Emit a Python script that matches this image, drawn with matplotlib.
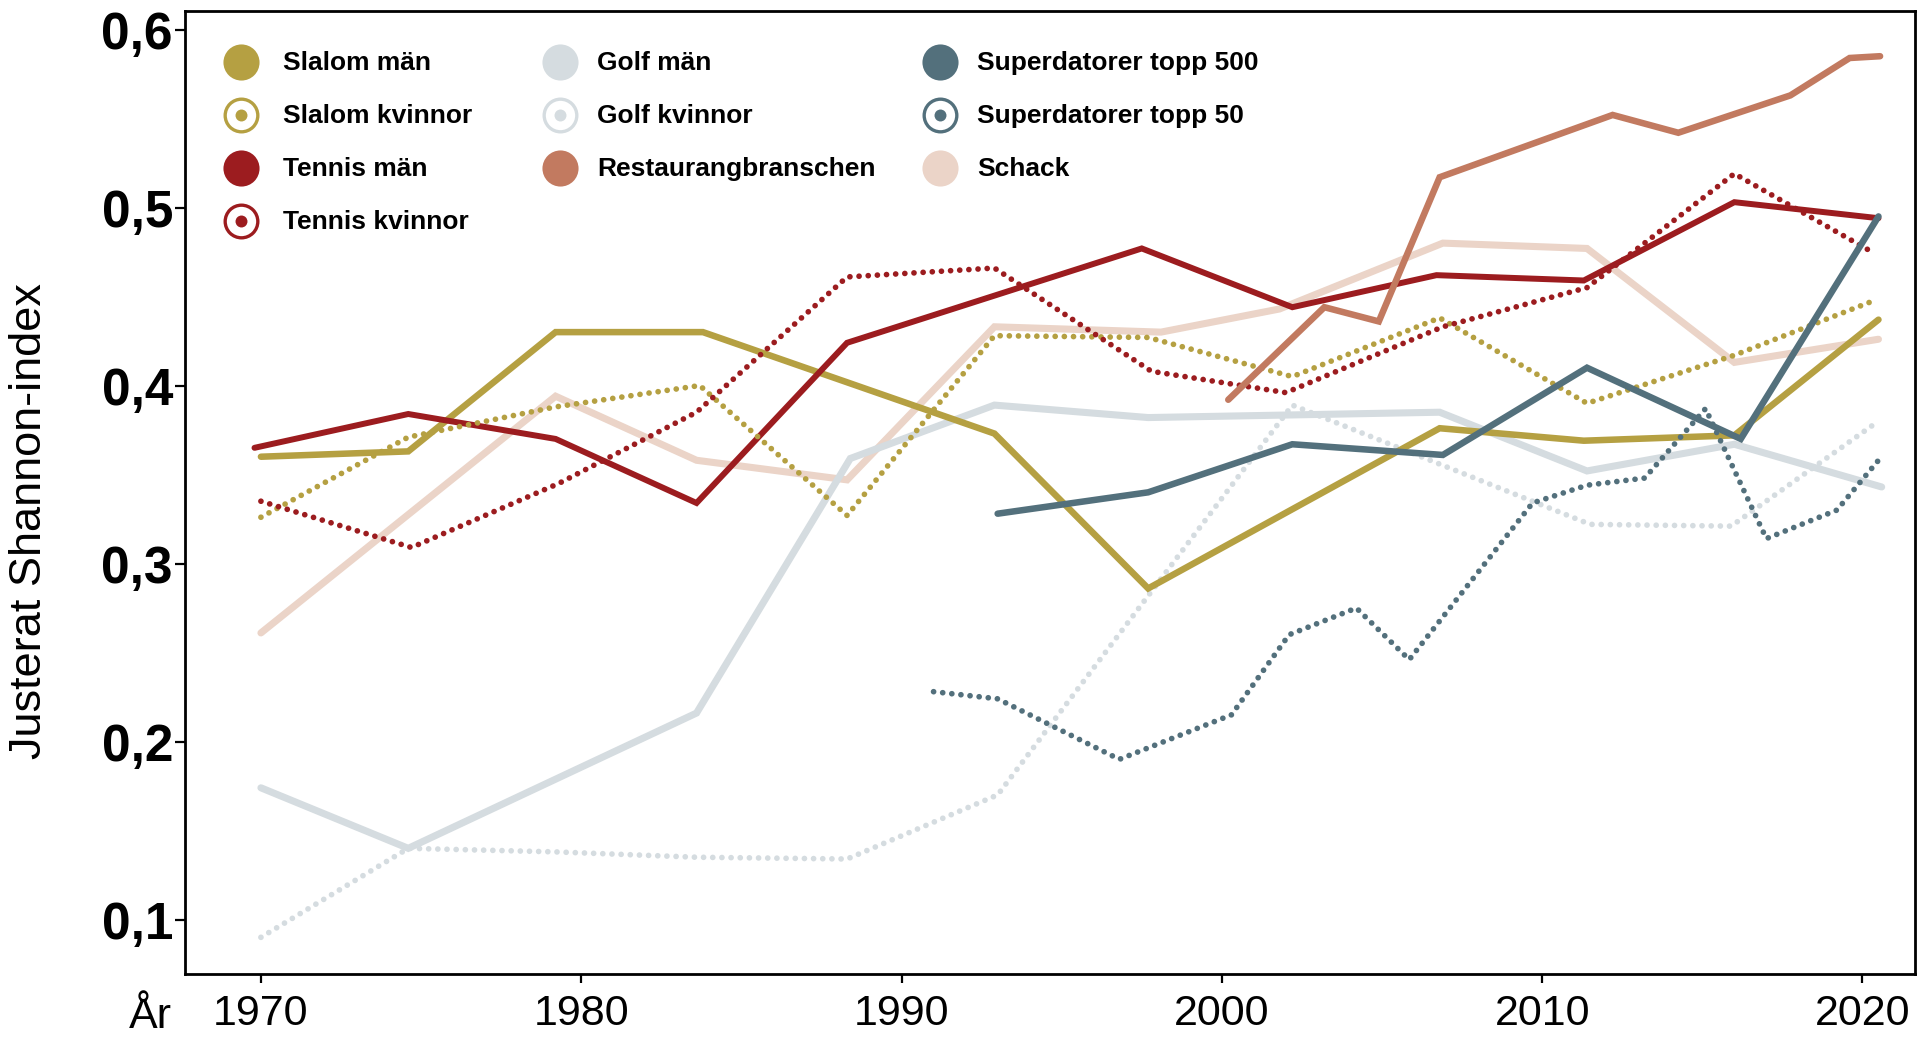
import matplotlib
matplotlib.use("Agg")
import matplotlib.pyplot as plt
from matplotlib.ticker import FuncFormatter

plt.rcParams['font.family'] = ['Liberation Sans', 'DejaVu Sans']

## Färger
GULD = '#B5A042'
ROD = '#9C1C1F'
GRA = '#D5DCE0'
TEGEL = '#C27A60'
SKIFFER = '#53707C'
ROSA = '#EBD4C8'

## Data (avläst ur originalet)
slalom_man_ar = [1970.0, 1974.6, 1979.2, 1983.8, 1992.9, 1997.7, 2006.8, 2011.3, 2016.0, 2020.5]
slalom_man = [0.360, 0.363, 0.430, 0.430, 0.373, 0.286, 0.376, 0.369, 0.372, 0.437]

slalom_kv_ar = [1970.0, 1974.6, 1979.2, 1983.7, 1988.3, 1992.9, 1997.7, 2002.2, 2006.8, 2011.4, 2016.0, 2020.4]
slalom_kv = [0.326, 0.371, 0.388, 0.400, 0.327, 0.428, 0.427, 0.405, 0.438, 0.390, 0.417, 0.448]

tennis_man_ar = [1969.8, 1974.6, 1979.2, 1983.6, 1988.3, 1997.5, 2002.2, 2006.7, 2011.3, 2016.0, 2020.5]
tennis_man = [0.365, 0.384, 0.370, 0.334, 0.424, 0.477, 0.444, 0.462, 0.459, 0.503, 0.494]

tennis_kv_ar = [1970.0, 1974.7, 1979.3, 1983.6, 1988.3, 1992.9, 1997.8, 2002.0, 2006.9, 2011.4, 2016.0, 2020.4]
tennis_kv = [0.335, 0.309, 0.345, 0.385, 0.461, 0.466, 0.408, 0.396, 0.433, 0.455, 0.519, 0.474]

golf_man_ar = [1970.0, 1974.6, 1983.6, 1988.4, 1992.9, 1997.7, 2006.8, 2011.4, 2016.0, 2020.6]
golf_man = [0.174, 0.140, 0.216, 0.359, 0.389, 0.382, 0.385, 0.352, 0.367, 0.343]

golf_kv_ar = [1970.0, 1974.6, 1979.2, 1983.6, 1988.3, 1993.0, 2002.2, 2011.5, 2015.9, 2020.5]
golf_kv = [0.090, 0.140, 0.138, 0.135, 0.134, 0.170, 0.389, 0.322, 0.321, 0.380]

restaurang_ar = [2000.2, 2003.2, 2004.9, 2006.8, 2012.2, 2014.25, 2017.75, 2019.6, 2020.55]
restaurang = [0.392, 0.444, 0.436, 0.517, 0.552, 0.542, 0.563, 0.584, 0.585]

topp500_ar = [1993.0, 1997.7, 2002.2, 2006.9, 2011.4, 2016.2, 2020.5]
topp500 = [0.328, 0.340, 0.367, 0.361, 0.410, 0.370, 0.495]

topp50_ar = [1991.0, 1993.0, 1996.8, 2000.3, 2002.1, 2004.2, 2005.85, 2009.7, 2011.4, 2013.2,
             2015.1, 2017.0, 2019.2, 2020.5]
topp50 = [0.228, 0.224, 0.190, 0.215, 0.260, 0.275, 0.246, 0.334, 0.344, 0.348,
          0.387, 0.314, 0.330, 0.358]

schack_ar = [1970.0, 1979.2, 1983.6, 1988.3, 1992.9, 1998.1, 2001.8, 2006.9, 2011.4, 2016.0, 2020.5]
schack = [0.261, 0.394, 0.358, 0.347, 0.433, 0.430, 0.443, 0.480, 0.477, 0.413, 0.426]

y_ticks = [0.1, 0.2, 0.3, 0.4, 0.5, 0.6]
x_ticks = [1970, 1980, 1990, 2000, 2010, 2020]

## Teckenförklaring: (kolumn, rad, text, färg, prickad)
forklaring = [
    (0, 0, 'Slalom män', GULD, False),
    (0, 1, 'Slalom kvinnor', GULD, True),
    (0, 2, 'Tennis män', ROD, False),
    (0, 3, 'Tennis kvinnor', ROD, True),
    (1, 0, 'Golf män', GRA, False),
    (1, 1, 'Golf kvinnor', GRA, True),
    (1, 2, 'Restaurangbranschen', TEGEL, False),
    (2, 0, 'Superdatorer topp 500', SKIFFER, False),
    (2, 1, 'Superdatorer topp 50', SKIFFER, True),
    (2, 2, 'Schack', ROSA, False),
]

W, H = 1920, 1038
fig = plt.figure(figsize=(W / 100, H / 100), dpi=100)
ax = fig.add_axes([185 / W, 1 - 974 / H, (1915 - 185) / W, (974 - 11) / H])


def px(x, y):
    # pixel -> figurkoordinater
    return x / W, 1 - y / H


def heldragen(x, y, farg, z, lw=4.7):
    ax.plot(x, y, color=farg, lw=lw, solid_capstyle='round', solid_joinstyle='miter', zorder=z)


def prickad(x, y, farg, z):
    ax.plot(x, y, color=farg, lw=4.1, linestyle=(0, (0.01, 1.6)), dash_capstyle='round', zorder=z)


heldragen(schack_ar, schack, ROSA, 2, lw=5.1)
heldragen(golf_man_ar, golf_man, GRA, 2, lw=5.1)
prickad(golf_kv_ar, golf_kv, GRA, 3)
heldragen(slalom_man_ar, slalom_man, GULD, 4)
prickad(slalom_kv_ar, slalom_kv, GULD, 5)
heldragen(tennis_man_ar, tennis_man, ROD, 4, lw=4.3)
prickad(tennis_kv_ar, tennis_kv, ROD, 5)
heldragen(restaurang_ar, restaurang, TEGEL, 6)
prickad(topp50_ar, topp50, SKIFFER, 6)
heldragen(topp500_ar, topp500, SKIFFER, 7)

ax.set_xlim(1967.63, 2021.64)
ax.set_ylim(0.0694, 0.6104)
ax.set_xticks(x_ticks)
ax.set_yticks(y_ticks)
ax.yaxis.set_major_formatter(FuncFormatter(lambda v, p: ('%.1f' % v).replace('.', ',')))
ax.tick_params(axis='y', length=7.2, width=1.6, pad=1.5, labelsize=37)
ax.tick_params(axis='x', length=6.5, width=1.6, pad=8, labelsize=31)
for lab in ax.get_yticklabels():
    lab.set_fontweight('bold')
for sp in ax.spines.values():
    sp.set_linewidth(2.0)

## Axeltexter
fig.text(*px(30, 521), 'Justerat Shannon-index', rotation=90, ha='center', va='center', fontsize=32.5)
fig.text(*px(150, 1028), 'År', ha='center', va='baseline', fontsize=31)

## Teckenförklaring
kol_markor = [241, 560, 940]
kol_text = [283, 597, 977]
rader = [62, 115, 168, 221]
for kol, rad, text, farg, ring in forklaring:
    mx, my = px(kol_markor[kol], rader[rad])
    if ring:
        ax.plot([mx], [my], 'o', ms=23.5, mfc='white', mec=farg, mew=2.4,
                transform=fig.transFigure, clip_on=False, zorder=10)
        ax.plot([mx], [my], 'o', ms=8.6, mfc=farg, mec='none',
                transform=fig.transFigure, clip_on=False, zorder=11)
    else:
        ax.plot([mx], [my], 'o', ms=26, mfc=farg, mec='none',
                transform=fig.transFigure, clip_on=False, zorder=10)
    tx, ty = px(kol_text[kol], rader[rad] + 1)
    fig.text(tx, ty, text, ha='left', va='center', fontsize=19, fontweight='bold')

fig.savefig('out.png', dpi=100)
